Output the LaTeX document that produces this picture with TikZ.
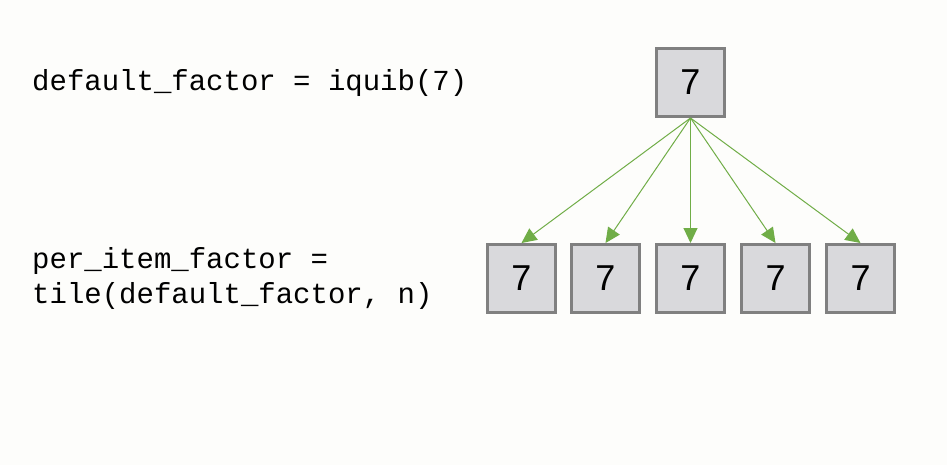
\documentclass[tikz,border=0pt]{standalone}
\usepackage{fontspec}
\setmainfont{Liberation Sans}
\newfontfamily\codefont{Liberation Mono}
\usetikzlibrary{arrows.meta}
\definecolor{bgc}{HTML}{FDFDFB}
\definecolor{boxfill}{HTML}{D9D9DC}
\definecolor{boxline}{HTML}{808080}
\definecolor{arrowc}{HTML}{70AD47}
\tikzset{
  valbox/.style={draw=boxline, line width=3pt, fill=boxfill, minimum width=68pt, minimum height=68pt, inner sep=0pt, font=\fontsize{36}{42}\selectfont},
  codetext/.style={anchor=west, align=left, inner sep=0pt, font=\codefont\fontsize{29}{35}\selectfont},
  link/.style={draw=arrowc, line width=1pt, -{Triangle[length=15pt,width=14pt]}}
}
\begin{document}
\begin{tikzpicture}[x=1pt,y=-1pt]
\useasboundingbox[fill=bgc] (0,0) rectangle (947,465);
\node[codetext] (t1) at (32,83) {default\_factor = iquib(7)};
\node[codetext] (t2) at (32,279) {per\_item\_factor =\\tile(default\_factor, n)};
\node[valbox] (top) at (690.5,82.5) {7};
\foreach \i/\x in {1/521.5,2/605.5,3/690.5,4/775.5,5/860.5}{
  \node[valbox] (b\i) at (\x,278.5) {7};
}
\foreach \i in {1,...,5}{
  \draw[link] (top.south) -- (b\i.north);
}
\end{tikzpicture}
\end{document}
